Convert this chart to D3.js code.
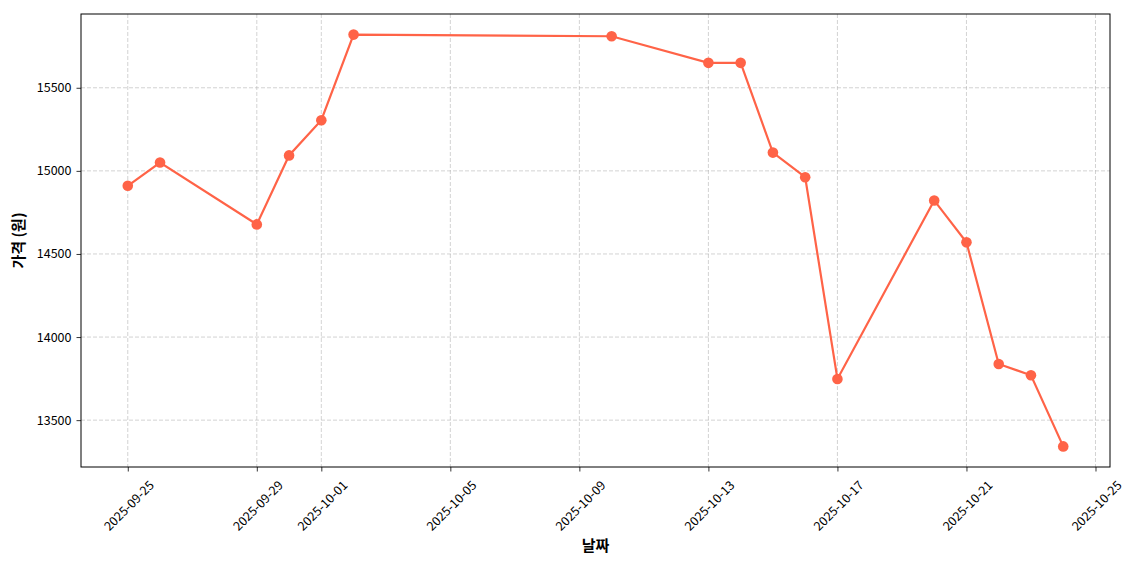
<!DOCTYPE html>
<html><head><meta charset="utf-8">
<script src="https://cdn.jsdelivr.net/npm/d3@7"></script>
<style>body{margin:0;background:#fff}svg{display:block}</style>
</head><body>
<svg id="c" width="1140" height="570"></svg>
<script>
const dates = ["2025-09-25","2025-09-26","2025-09-29","2025-09-30","2025-10-01","2025-10-02","2025-10-10","2025-10-13","2025-10-14","2025-10-15","2025-10-16","2025-10-17","2025-10-20","2025-10-21","2025-10-22","2025-10-23","2025-10-24"];
const prices = [14910,15050,14678,15093,15305,15820,15810,15650,15650,15110,14962,13748,14822,14570,13838,13770,13342];
const xTickLabels = ["2025-09-25","2025-09-29","2025-10-01","2025-10-05","2025-10-09","2025-10-13","2025-10-17","2025-10-21","2025-10-25"];
const yTicks = [13500,14000,14500,15000,15500];
const xLabel = "날짜", yLabel = "가격 (원)";

const parse = d3.utcParse("%Y-%m-%d");
const data = dates.map((d,i)=>({date:parse(d), v:prices[i]}));
const font = "'Noto Sans CJK KR','Noto Sans',sans-serif";
const L=81, R=1110, T=14, B=467;
const svg = d3.select("#c");

const xe = d3.extent(data,d=>+d.date), xp=(xe[1]-xe[0])*0.05;
const x = d3.scaleUtc().domain([new Date(xe[0]-xp), new Date(xe[1]+xp)]).range([L,R]);
const ye = d3.extent(prices), yp=(ye[1]-ye[0])*0.05;
const y = d3.scaleLinear().domain([ye[0]-yp, ye[1]+yp]).range([B,T]);
const xTicks = xTickLabels.map(parse);

// grid
const g = svg.append("g");
g.selectAll(".gx").data(xTicks).join("line")
 .attr("x1",d=>x(d)).attr("x2",d=>x(d)).attr("y1",T).attr("y2",B)
 .attr("stroke","#b0b0b0").attr("stroke-opacity",0.7).attr("stroke-width",0.8).attr("stroke-dasharray","4,2");
g.selectAll(".gy").data(yTicks).join("line")
 .attr("x1",L).attr("x2",R).attr("y1",d=>y(d)).attr("y2",d=>y(d))
 .attr("stroke","#b0b0b0").attr("stroke-opacity",0.7).attr("stroke-width",0.8).attr("stroke-dasharray","4,2");

// axes
const xa = svg.append("g").attr("transform",`translate(0,${B})`)
 .call(d3.axisBottom(x).tickValues(xTicks).tickSize(4.5).tickFormat(d3.utcFormat("%Y-%m-%d")));
xa.select(".domain").remove();
xa.selectAll("line").attr("stroke","#000").attr("stroke-width",0.8);
xa.selectAll("text").attr("font-family",font).attr("font-size","12.5px").attr("fill","#000")
 .attr("text-anchor","middle").attr("dy",null).attr("y",null).attr("dominant-baseline","central")
 .attr("transform","translate(0,38) rotate(-45)");

const ya = svg.append("g").attr("transform",`translate(${L},0)`)
 .call(d3.axisLeft(y).tickValues(yTicks).tickSize(4.5).tickPadding(5).tickFormat(d3.format("d")));
ya.select(".domain").remove();
ya.selectAll("line").attr("stroke","#000").attr("stroke-width",0.8);
ya.selectAll("text").attr("font-family",font).attr("font-size","12.5px").attr("fill","#000");

// line
svg.append("path").datum(data)
 .attr("d",d3.line().x(d=>x(d.date)).y(d=>y(d.v)))
 .attr("fill","none").attr("stroke","#FF6347").attr("stroke-width",2.2);
svg.selectAll(".pt").data(data).join("circle")
 .attr("cx",d=>x(d.date)).attr("cy",d=>y(d.v)).attr("r",5.3).attr("fill","#FF6347");

// frame
svg.append("rect").attr("x",L).attr("y",T).attr("width",R-L).attr("height",B-T)
 .attr("fill","none").attr("stroke","#000").attr("stroke-width",1);

svg.append("text").attr("x",(L+R)/2).attr("y",551).attr("text-anchor","middle")
 .attr("font-family",font).attr("font-size","15px").attr("font-weight","bold").text(xLabel);
svg.append("text").attr("transform",`translate(24,${(T+B)/2}) rotate(-90)`).attr("text-anchor","middle")
 .attr("font-family",font).attr("font-size","15px").attr("font-weight","bold").text(yLabel);
</script>
</body></html>
